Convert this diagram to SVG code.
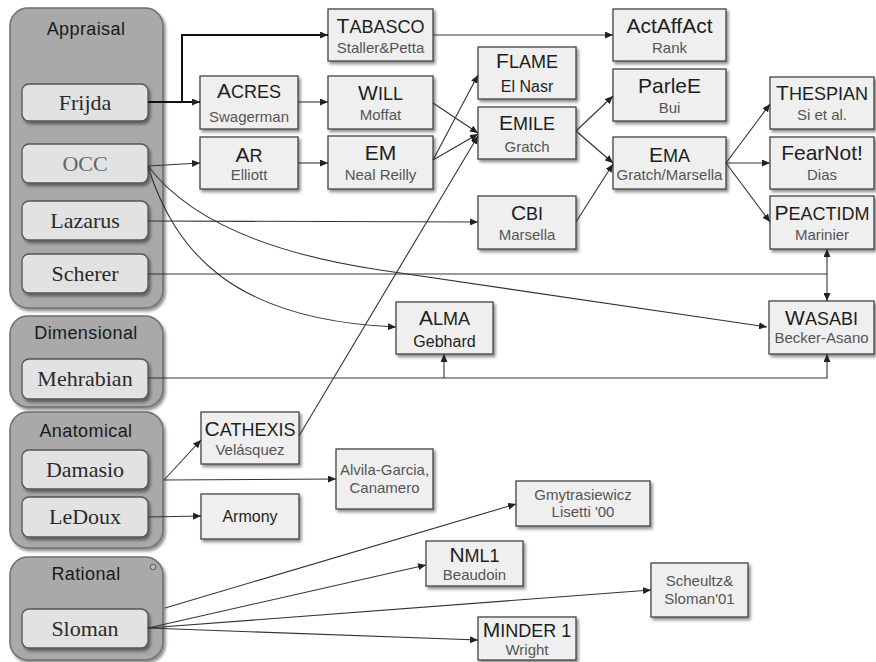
<svg xmlns="http://www.w3.org/2000/svg" width="876" height="662" viewBox="0 0 876 662">
<defs>
<filter id="sh" x="-10%" y="-10%" width="130%" height="140%">
<feDropShadow dx="2" dy="2.5" stdDeviation="1.5" flood-color="#000" flood-opacity="0.45"/>
</filter>
<marker id="ar" viewBox="0 0 8 7" refX="8" refY="3.5" markerWidth="8" markerHeight="7" markerUnits="userSpaceOnUse" orient="auto-start-reverse">
<path d="M0,0 L8,3.5 L0,7 z" fill="#222"/>
</marker>
</defs>
<style>
.grp{fill:#a9a9a9;stroke:#6f6f6f;stroke-width:1.5;filter:url(#sh)}
.gl{font-family:"Liberation Sans",Arial,sans-serif;font-size:18px;fill:#1a1a1a;text-anchor:middle;letter-spacing:0.4px}
.ib{fill:#e2e2e2;stroke:#555;stroke-width:1.3;filter:url(#sh)}
.il{font-family:"Liberation Serif","Times New Roman",serif;font-size:22px;fill:#2a2a2a;text-anchor:middle}
.nb{fill:#efefef;stroke:#444;stroke-width:1.3;filter:url(#sh)}
.t{font-family:"Liberation Sans",Arial,sans-serif;font-size:21px;fill:#1e1e1e;text-anchor:middle}
.sc{font-size:18px}
.s{font-family:"Liberation Sans",Arial,sans-serif;font-size:15px;fill:#555;text-anchor:middle}
.sd{fill:#1e1e1e;font-size:16px}
.c{fill:none;stroke:#333;stroke-width:1.1}
.cb{fill:none;stroke:#111;stroke-width:2}
</style>

<g id="group-appraisal">
<rect class="grp" x="10" y="8" width="153" height="300" rx="18"/>
<text class="gl" x="86" y="35">Appraisal</text>
</g>
<g id="group-dimensional">
<rect class="grp" x="10" y="316" width="153" height="91" rx="18"/>
<text class="gl" x="86" y="339">Dimensional</text>
</g>
<g id="group-anatomical">
<rect class="grp" x="10" y="412" width="153" height="136" rx="18"/>
<text class="gl" x="86" y="437">Anatomical</text>
</g>
<g id="group-rational">
<rect class="grp" x="10" y="557" width="153" height="103" rx="18"/>
<text class="gl" x="86" y="580">Rational</text>
<circle cx="153" cy="567" r="2.8" fill="#bdbdbd" stroke="#555" stroke-width="1"/>
</g>

<g id="frijda"><rect class="ib" x="22" y="84" width="126" height="37" rx="7"/><text class="il" x="85" y="110">Frijda</text></g>
<g id="occ"><rect class="ib" x="22" y="144" width="126" height="39" rx="7"/><text class="il" x="85" y="171" style="fill:#666">OCC</text></g>
<g id="lazarus"><rect class="ib" x="22" y="201" width="126" height="39" rx="7"/><text class="il" x="85" y="228">Lazarus</text></g>
<g id="scherer"><rect class="ib" x="22" y="254" width="126" height="39" rx="7"/><text class="il" x="85" y="281">Scherer</text></g>
<g id="mehrabian"><rect class="ib" x="22" y="359" width="126" height="40" rx="7"/><text class="il" x="85" y="386">Mehrabian</text></g>
<g id="damasio"><rect class="ib" x="22" y="450" width="126" height="39" rx="7"/><text class="il" x="85" y="477">Damasio</text></g>
<g id="ledoux"><rect class="ib" x="22" y="497" width="126" height="40" rx="7"/><text class="il" x="85" y="524">LeDoux</text></g>
<g id="sloman"><rect class="ib" x="22" y="609" width="126" height="39" rx="7"/><text class="il" x="85" y="636">Sloman</text></g>

<g id="tabasco"><rect class="nb" x="328" y="9" width="105" height="52"/><text class="t" x="380.5" y="33">T<tspan class="sc">ABASCO</tspan></text><text class="s" x="380.5" y="53">Staller&amp;Petta</text></g>
<g id="actaffact"><rect class="nb" x="613" y="9" width="113" height="52"/><text class="t" x="669.5" y="33">ActAffAct</text><text class="s" x="669.5" y="53">Rank</text></g>
<g id="acres"><rect class="nb" x="200" y="76" width="98" height="53"/><text class="t" x="249" y="98">A<tspan class="sc">CRES</tspan></text><text class="s" x="249" y="122">Swagerman</text></g>
<g id="will"><rect class="nb" x="328" y="76" width="105" height="53"/><text class="t" x="380.5" y="100">W<tspan class="sc">ILL</tspan></text><text class="s" x="380.5" y="120">Moffat</text></g>
<g id="flame"><rect class="nb" x="478" y="47" width="98" height="52"/><text class="t" x="527" y="68">F<tspan class="sc">LAME</tspan></text><text class="s sd" x="527" y="92">El Nasr</text></g>
<g id="emile"><rect class="nb" x="478" y="107" width="98" height="52"/><text class="t" x="527" y="130">E<tspan class="sc">MILE</tspan></text><text class="s" x="527" y="152">Gratch</text></g>
<g id="parlee"><rect class="nb" x="613" y="69" width="113" height="52"/><text class="t" x="669.5" y="93">ParleE</text><text class="s" x="669.5" y="113">Bui</text></g>
<g id="ar"><rect class="nb" x="200" y="137" width="98" height="52"/><text class="t" x="249" y="162">A<tspan class="sc">R</tspan></text><text class="s" x="249" y="180">Elliott</text></g>
<g id="em"><rect class="nb" x="328" y="136" width="105" height="53"/><text class="t" x="380.5" y="160">EM</text><text class="s" x="380.5" y="180">Neal Reilly</text></g>
<g id="ema"><rect class="nb" x="613" y="137" width="113" height="52"/><text class="t" x="669.5" y="162">E<tspan class="sc">MA</tspan></text><text class="s" x="669.5" y="180">Gratch/Marsella</text></g>
<g id="thespian"><rect class="nb" x="770" y="77" width="104" height="52"/><text class="t" x="822" y="100">T<tspan class="sc">HESPIAN</tspan></text><text class="s" x="822" y="120">Si et al.</text></g>
<g id="fearnot"><rect class="nb" x="770" y="137" width="104" height="52"/><text class="t" x="822" y="160">FearNot!</text><text class="s" x="822" y="180">Dias</text></g>
<g id="cbi"><rect class="nb" x="478" y="196" width="98" height="53"/><text class="t" x="527" y="220">C<tspan class="sc">BI</tspan></text><text class="s" x="527" y="240">Marsella</text></g>
<g id="peactidm"><rect class="nb" x="770" y="196" width="104" height="53"/><text class="t" x="822" y="220">P<tspan class="sc">EACTIDM</tspan></text><text class="s" x="822" y="240">Marinier</text></g>
<g id="alma"><rect class="nb" x="396" y="302" width="97" height="52"/><text class="t" x="444.5" y="325">A<tspan class="sc">LMA</tspan></text><text class="s sd" x="444.5" y="347">Gebhard</text></g>
<g id="wasabi"><rect class="nb" x="769" y="301" width="105" height="53"/><text class="t" x="821.5" y="325">W<tspan class="sc">ASABI</tspan></text><text class="s" x="821.5" y="343">Becker-Asano</text></g>
<g id="cathexis"><rect class="nb" x="201" y="412" width="98" height="52"/><text class="t" x="250" y="436">C<tspan class="sc">ATHEXIS</tspan></text><text class="s" x="250" y="455">Velásquez</text></g>
<g id="armony"><rect class="nb" x="201" y="494" width="98" height="45"/><text class="s sd" x="250" y="522">Armony</text></g>
<g id="alvila"><rect class="nb" x="336" y="449" width="97" height="60"/><text class="s" x="384.5" y="475">Alvila-Garcia,</text><text class="s" x="384.5" y="493">Canamero</text></g>
<g id="gmytrasiewicz"><rect class="nb" x="516" y="481" width="134" height="45"/><text class="s" x="583" y="500">Gmytrasiewicz</text><text class="s" x="583" y="517">Lisetti '00</text></g>
<g id="nml1"><rect class="nb" x="426" y="541" width="97" height="45"/><text class="t" x="474.5" y="562">N<tspan class="sc">ML1</tspan></text><text class="s" x="474.5" y="580">Beaudoin</text></g>
<g id="scheultz"><rect class="nb" x="651" y="563" width="97" height="54"/><text class="s" x="699.5" y="586">Scheultz&amp;</text><text class="s" x="699.5" y="604">Sloman'01</text></g>
<g id="minder1"><rect class="nb" x="478" y="617" width="98" height="43"/><text class="t" x="527" y="637">M<tspan class="sc">INDER 1</tspan></text><text class="s" x="527" y="655">Wright</text></g>

<g id="connectors">
<path class="cb" d="M148,102 H182 V35 H328" marker-end="url(#ar)"/>
<path class="cb" d="M148,102 H200" marker-end="url(#ar)"/>
<path class="c" d="M148,166 L200,163" marker-end="url(#ar)"/>
<path class="c" d="M298,102 H328" marker-end="url(#ar)"/>
<path class="c" d="M298,163 H328" marker-end="url(#ar)"/>
<path class="c" d="M433,35 H613" marker-end="url(#ar)"/>
<path class="c" d="M433,103 L478,133" marker-end="url(#ar)"/>
<path class="c" d="M433,160 L478,75" marker-end="url(#ar)"/>
<path class="c" d="M433,160 L478,134" marker-end="url(#ar)"/>
<path class="c" d="M299,436 L478,136" marker-end="url(#ar)"/>
<path class="c" d="M576,131 L613,96" marker-end="url(#ar)"/>
<path class="c" d="M576,131 L613,163" marker-end="url(#ar)"/>
<path class="c" d="M576,222 L613,164" marker-end="url(#ar)"/>
<path class="c" d="M726,163 L770,104" marker-end="url(#ar)"/>
<path class="c" d="M726,163 H770" marker-end="url(#ar)"/>
<path class="c" d="M726,163 L770,222" marker-end="url(#ar)"/>
<path class="c" d="M148,221 L478,222" marker-end="url(#ar)"/>
<path class="c" d="M148,274 H827"/>
<path class="c" d="M827,249 V301" marker-start="url(#ar)" marker-end="url(#ar)"/>
<path class="c" d="M148,166 C185,215 260,252 380,270 L767,327" marker-end="url(#ar)"/>
<path class="c" d="M148,167 C175,250 230,320 396,327" marker-end="url(#ar)"/>
<path class="c" d="M148,378 H827 V354" marker-end="url(#ar)"/>
<path class="c" d="M444,378 V354" marker-end="url(#ar)"/>
<path class="c" d="M164,480 L201,440" marker-end="url(#ar)"/>
<path class="c" d="M164,480 L336,479" marker-end="url(#ar)"/>
<path class="c" d="M148,517 L201,516" marker-end="url(#ar)"/>
<path class="c" d="M165,608 L516,504" marker-end="url(#ar)"/>
<path class="c" d="M148,628 L426,565" marker-end="url(#ar)"/>
<path class="c" d="M148,628 L651,590" marker-end="url(#ar)"/>
<path class="c" d="M148,628 L478,640" marker-end="url(#ar)"/>
</g>
</svg>
